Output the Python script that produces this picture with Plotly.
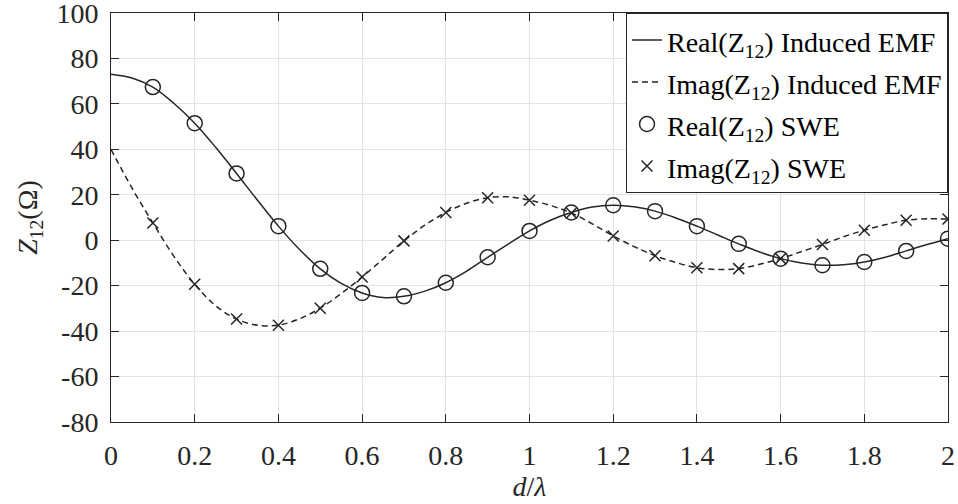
import plotly.graph_objects as go

# ---- data ----
d_line = [0.0, 0.05, 0.1, 0.15, 0.2, 0.25, 0.3, 0.35, 0.4, 0.45, 0.5, 0.55, 0.6, 0.65, 0.7,
          0.75, 0.8, 0.85, 0.9, 0.95, 1.0, 1.05, 1.1, 1.15, 1.2, 1.25, 1.3, 1.35, 1.4,
          1.45, 1.5, 1.55, 1.6, 1.65, 1.7, 1.75, 1.8, 1.85, 1.9, 1.95, 2.0]
real_emf = [73.1, 71.4, 67.4, 60.3, 51.5, 40.9, 29.4, 17.6, 6.2, -4.0, -12.6, -19.0, -23.2,
            -25.2, -24.7, -22.4, -18.7, -13.6, -7.5, -1.6, 4.1, 8.8, 12.2, 14.6, 15.4, 14.7,
            12.8, 9.8, 6.2, 2.3, -1.6, -5.2, -8.1, -10.0, -11.0, -10.8, -9.6, -7.5, -4.7,
            -1.9, 0.7]
imag_emf = [40.0, 23.0, 7.6, -7.0, -19.4, -28.8, -34.7, -37.4, -37.4, -34.6, -29.9, -23.5,
            -16.2, -8.3, -0.3, 6.6, 12.2, 16.3, 18.7, 19.1, 17.6, 15.3, 12.0, 7.2, 1.9,
            -2.8, -6.8, -9.8, -12.1, -12.9, -12.5, -10.6, -8.1, -5.0, -1.9, 1.5, 4.4,
            6.8, 8.8, 9.4, 9.3]
d_swe = [0.1, 0.2, 0.3, 0.4, 0.5, 0.6, 0.7, 0.8, 0.9, 1.0, 1.1, 1.2, 1.3, 1.4, 1.5, 1.6,
         1.7, 1.8, 1.9, 2.0]
real_swe = [67.4, 51.5, 29.4, 6.2, -12.6, -23.2, -24.7, -18.7, -7.5, 4.1, 12.2, 15.4, 12.8,
            6.2, -1.6, -8.1, -11.0, -9.6, -4.7, 0.7]
imag_swe = [7.6, -19.4, -34.7, -37.4, -29.9, -16.2, -0.3, 12.2, 18.7, 17.6, 12.0, 1.9, -6.8,
            -12.1, -12.5, -8.1, -1.9, 4.4, 8.8, 9.3]
x_ticks = [0, 0.2, 0.4, 0.6, 0.8, 1, 1.2, 1.4, 1.6, 1.8, 2]
y_ticks = [-80, -60, -40, -20, 0, 20, 40, 60, 80, 100]
legend_names = ["Real(Z<sub>12</sub>) Induced EMF", "Imag(Z<sub>12</sub>) Induced EMF",
                "Real(Z<sub>12</sub>) SWE", "Imag(Z<sub>12</sub>) SWE"]

INK = "#262626"
FONT = "Liberation Serif, Times New Roman, serif"


def leg(name):
    return '<span style="font-size:28px">' + name + "</span>"


fig = go.Figure()
fig.add_trace(go.Scatter(x=d_line, y=real_emf, mode="lines", line=dict(color=INK, width=1.5, shape="spline"),
                         name=leg(legend_names[0])))
fig.add_trace(go.Scatter(x=d_line, y=imag_emf, mode="lines",
                         line=dict(color=INK, width=1.5, shape="spline", dash="6px,4px"),
                         name=leg(legend_names[1])))
fig.add_trace(go.Scatter(x=d_swe, y=real_swe, mode="markers",
                         marker=dict(symbol="circle-open", size=15, color=INK, line=dict(width=1.5, color=INK)),
                         name=leg(legend_names[2])))
fig.add_trace(go.Scatter(x=d_swe, y=imag_swe, mode="markers",
                         marker=dict(symbol="x-thin-open", size=11, color=INK, line=dict(width=1.5, color=INK)),
                         name=leg(legend_names[3])))

axis_common = dict(showline=True, linecolor=INK, linewidth=1, mirror="ticks", ticks="inside", ticklen=8,
                   tickcolor=INK, showgrid=True, gridcolor="#e3e3e3", gridwidth=1, zeroline=False,
                   ticklabeloverflow="allow", automargin=False,
                   tickfont=dict(family=FONT, size=28, color=INK))
fig.update_xaxes(range=[0, 2], tickvals=x_ticks, ticktext=[f"{v:g}" for v in x_ticks],
                 ticklabelstandoff=8,
                 title=dict(text="<i>d</i>/<i>λ</i>", font=dict(family=FONT, size=28, color=INK), standoff=0),
                 **axis_common)
fig.update_yaxes(range=[-80, 100], tickvals=y_ticks, ticktext=[f"{v:g}" for v in y_ticks],
                 ticklabelstandoff=6,
                 title=dict(text="<i>Z</i><sub>12</sub>(Ω)", font=dict(family=FONT, size=28, color=INK), standoff=10),
                 **axis_common)
fig.update_layout(
    width=958, height=504, autosize=False,
    margin=dict(l=111, r=10, t=13, b=82, pad=0, autoexpand=False),
    paper_bgcolor="white", plot_bgcolor="white",
    font=dict(family=FONT, size=28, color=INK),
    showlegend=True,
    legend=dict(x=1, y=1, xanchor="right", yanchor="top", bgcolor="white", bordercolor=INK, borderwidth=1,
                font=dict(family=FONT, size=30, color="#000000"), itemwidth=30, tracegroupgap=0),
)
fig.write_html("out.html")
